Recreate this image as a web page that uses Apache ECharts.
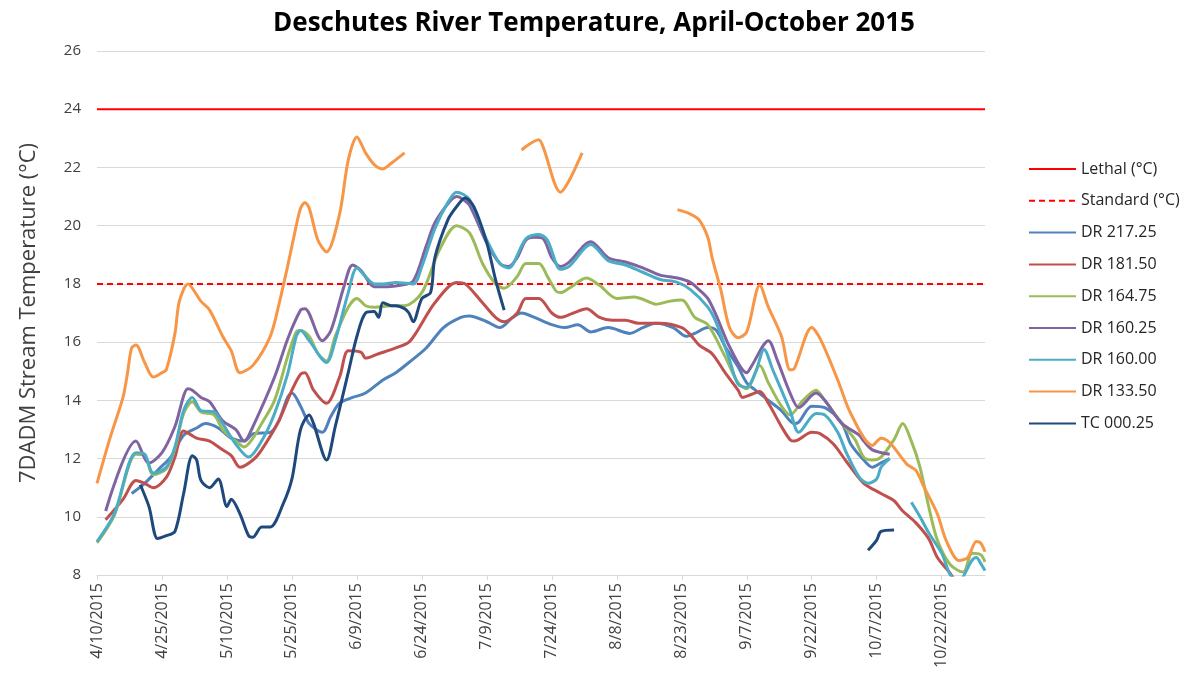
<!DOCTYPE html>
<html>
<head>
<meta charset="utf-8">
<script src="https://cdn.jsdelivr.net/npm/echarts@6/dist/echarts.min.js"></script>
<style>
  html, body { margin: 0; padding: 0; background: #fff; }
  #chart { width: 1188px; height: 682px; }
</style>
</head>
<body>
<div id="chart"></div>
<script>
// days counted from 4/10/2015, temperatures in °C; null marks a gap in the record
const thresholdDays = [0, 205];
const lethalTemp = 24;
const standardTemp = 18;

const dr21725 = [[8,10.8],[11,11.15],[14,11.6],[17,12.05],[20,12.8],[23,13.05],[25,13.2],[28,13.05],[31,12.7],[34,12.6],
  [36,12.85],[40,12.9],[42,13.3],[44,14.1],[45,14.25],[47,13.8],[49,13.2],[52,12.9],[54,13.45],[56,13.9],
  [59,14.1],[62,14.25],[66,14.7],[69,14.95],[72,15.3],[76,15.8],[80,16.5],[84,16.85],[86,16.9],[90,16.7],
  [93,16.5],[96,16.85],[98,17.0],[101,16.85],[105,16.6],[108,16.5],[111,16.6],[114,16.35],[118,16.5],[123,16.3],
  [126,16.5],[129,16.65],[133,16.5],[136,16.2],[138,16.3],[141,16.5],[143,16.4],[145,15.85],[148,15.15],[150,14.6],
  [152,14.35],[155,14.0],[158,13.65],[161,13.2],[162,13.25],[165,13.8],[168,13.75],[172,13.2],[174,12.5],[177,11.95],
  [179,11.7],[181,11.85],[183,12.0]];

const dr18150 = [[2,9.9],[6,10.6],[9,11.25],[11,11.15],[13,11.0],[16,11.35],[18,12.05],[20,12.95],[23,12.7],[26,12.6],
  [29,12.3],[31,12.1],[33,11.7],[36,11.95],[38,12.3],[42,13.3],[45,14.35],[47,14.9],[48,14.95],[50,14.35],
  [53,13.9],[56,14.8],[58,15.7],[61,15.65],[62,15.45],[65,15.6],[69,15.8],[72,16.0],[74,16.4],[78,17.35],
  [83,18.05],[85,18.0],[89,17.35],[92,16.85],[94,16.7],[97,17.0],[99,17.5],[102,17.5],[105,17.0],[107,16.85],
  [110,17.0],[113,17.15],[116,16.85],[119,16.75],[122,16.75],[125,16.65],[130,16.65],[135,16.5],[137,16.25],[139,15.9],
  [142,15.6],[145,14.95],[148,14.35],[149,14.1],[151,14.2],[153,14.3],[155,13.9],[158,13.1],[160,12.65],[161,12.6],
  [165,12.9],[167,12.85],[170,12.5],[173,11.9],[177,11.15],[181,10.8],[184,10.55],[186,10.2],[189,9.8],[192,9.25],
  [194,8.6],[197,8.05],[199,7.6]];

const dr16475 = [[0,9.1],[4,10.05],[9,12.15],[11,12.1],[13,11.45],[16,11.65],[18,12.35],[20,13.55],[22,13.95],[24,13.6],
  [27,13.5],[29,13.0],[32,12.6],[34,12.4],[36,12.7],[38,13.2],[41,14.0],[44,15.5],[46,16.35],[47,16.4],
  [49,16.2],[51,15.6],[53,15.35],[55,16.2],[58,17.2],[60,17.5],[62,17.25],[64,17.2],[68,17.25],[71,17.25],
  [75,17.7],[79,19.15],[83,20.0],[86,19.75],[89,18.7],[92,18.0],[94,17.85],[97,18.25],[99,18.7],[102,18.7],
  [104,18.25],[106,17.75],[107,17.7],[109,17.85],[113,18.2],[116,17.95],[120,17.5],[124,17.55],[128,17.35],[129,17.3],
  [132,17.4],[135,17.45],[138,16.85],[141,16.6],[145,15.5],[148,14.6],[150,14.4],[153,15.2],[155,14.6],[158,13.8],
  [160,13.5],[163,14.0],[166,14.35],[168,14.0],[172,13.2],[175,12.65],[177,12.05],[179,11.95],[181,12.05],[184,12.65],
  [186,13.2],[188,12.6],[190,11.7],[192,10.35],[194,9.2],[197,8.35],[200,8.1],[202,8.75],[204,8.7],[205,8.45]];

const dr16025 = [[2,10.2],[9,12.6],[12,11.85],[15,12.2],[18,13.1],[21,14.4],[22,14.35],[24,14.1],[26,13.95],[29,13.3],
  [32,13.0],[34,12.6],[36,13.1],[41,14.8],[44,16.1],[47,17.1],[48,17.15],[52,16.05],[54,16.4],[57,17.9],
  [59,18.65],[61,18.45],[64,17.9],[67,17.9],[70,17.95],[73,18.1],[76,19.3],[78,20.1],[81,20.75],[83,21.0],
  [84,20.95],[86,20.7],[90,19.4],[93,18.7],[95,18.6],[97,18.9],[99,19.5],[101,19.6],[103,19.55],[105,18.9],
  [107,18.6],[109,18.75],[114,19.45],[118,18.9],[122,18.75],[126,18.55],[130,18.3],[134,18.2],[137,18.05],[139,17.8],
  [141,17.5],[143,16.9],[146,15.85],[150,14.95],[151,15.15],[155,16.05],[157,15.4],[160,14.25],[162,13.75],[166,14.25],
  [168,14.0],[172,13.2],[176,12.8],[177,12.6],[179,12.3],[183,12.15]];

const dr16000 = [[0,9.15],[4,10.1],[9,12.2],[11,12.15],[13,11.5],[16,11.7],[18,12.4],[20,13.65],[22,14.1],[24,13.65],
  [27,13.6],[29,13.2],[32,12.5],[35,12.05],[38,12.6],[41,13.55],[44,14.9],[46,16.2],[47,16.4],[49,16.05],
  [53,15.3],[55,16.05],[58,17.7],[60,18.55],[62,18.25],[64,18.0],[66,18.0],[69,18.05],[73,18.0],[75,18.6],
  [78,19.9],[81,20.8],[83,21.15],[86,20.9],[90,19.5],[93,18.7],[95,18.55],[99,19.55],[102,19.7],[104,19.5],
  [107,18.5],[109,18.6],[114,19.35],[118,18.8],[122,18.65],[126,18.4],[130,18.15],[134,18.05],[137,17.8],[141,17.2],
  [143,16.65],[146,15.4],[148,14.55],[150,14.45],[152,14.95],[154,15.75],[156,15.05],[160,13.65],[162,12.9],[166,13.55],
  [168,13.5],[171,12.9],[173,12.2],[176,11.35],[178,11.15],[180,11.3],[181,11.7],[183,12.0],[185,null],
  [188,10.5],[190,10.0],[192,9.45],[195,8.75],[197,8.0],[199,7.75],[200,7.95],[202,8.5],[203,8.6],[204,8.4],[205,8.15]];

const dr13350 = [[0,11.15],[3,12.7],[6,14.1],[7,14.9],[8,15.8],[9,15.9],[11,15.3],[13,14.8],[15,14.95],[16,15.05],
  [18,16.3],[19,17.4],[21,18.0],[24,17.4],[26,17.1],[29,16.2],[31,15.7],[33,14.95],[36,15.2],[40,16.2],
  [42,17.3],[44,18.6],[46,20.0],[47,20.6],[48,20.8],[49,20.6],[51,19.5],[53,19.1],[56,20.4],[58,22.25],
  [60,23.05],[62,22.5],[64,22.1],[66,21.95],[68,22.15],[71,22.5],[80,null],
  [98,22.6],[102,22.95],[103,22.7],[107,21.15],[109,21.55],[112,22.5],[120,null],
  [134,20.55],[137,20.4],[139,20.2],[141,19.6],[142,18.9],[144,17.8],[146,16.5],[148,16.15],[150,16.35],[153,17.95],
  [155,17.2],[158,16.2],[160,15.05],[161,15.1],[165,16.5],[167,16.1],[171,14.7],[174,13.55],[179,12.45],[181,12.7],
  [183,12.55],[187,11.8],[189,11.6],[191,11.0],[194,10.1],[196,9.2],[199,8.5],[201,8.6],[203,9.15],[204,9.1],[205,8.8]];

const tc00025 = [[10,11.1],[12,10.35],[14,9.25],[16,9.35],[18,9.5],[20,10.8],[22,12.1],[23,11.95],[24,11.25],[26,11.0],
  [28,11.3],[30,10.35],[31,10.6],[33,10.1],[35,9.35],[36,9.3],[38,9.65],[40,9.65],[43,10.45],[45,11.3],
  [47,13.0],[49,13.5],[50,13.2],[53,11.95],[55,13.1],[58,14.95],[60,16.2],[62,17.0],[64,17.05],[65,16.85],
  [66,17.35],[68,17.25],[69,17.25],[71,17.15],[72,17.0],[73,16.7],[75,17.5],[77,17.7],[78,18.9],[81,20.2],
  [83,20.65],[85,20.95],[87,20.65],[90,19.4],[92,18.15],[94,17.1],[130,null],
  [178,8.85],[180,9.2],[181,9.5],[184,9.55]];

const font = 'Open Sans';

function toData(pts) {
  return pts.map(p => [p[0], p[1] === null ? '-' : p[1]]);
}

function dateLabel(v) {
  if (v % 15 !== 0) return '';
  const d = new Date(2015, 3, 10 + v);
  return (d.getMonth() + 1) + '/' + d.getDate() + '/' + d.getFullYear();
}

function tempLine(name, pts, color) {
  return {
    name: name,
    type: 'line',
    data: toData(pts),
    symbol: 'none',
    smooth: 0.3,
    lineStyle: { color: color, width: 3 },
    itemStyle: { color: color }
  };
}

var chart = echarts.init(document.getElementById('chart'));
chart.setOption({
  animation: false,
  backgroundColor: '#fff',
  title: {
    text: 'Deschutes River Temperature, April-October 2015',
    left: 'center',
    top: 6,
    textStyle: { fontFamily: font, fontSize: 26, fontWeight: 'bold', color: '#000' }
  },
  legend: {
    orient: 'vertical',
    left: 1023,
    top: 156,
    itemWidth: 47,
    itemHeight: 14,
    itemGap: 15.8,
    itemStyle: { opacity: 0 },
    textStyle: { fontFamily: font, fontSize: 16, color: '#262626' },
    data: ['Lethal (°C)', 'Standard (°C)', 'DR 217.25', 'DR 181.50', 'DR 164.75',
           'DR 160.25', 'DR 160.00', 'DR 133.50', 'TC 000.25']
  },
  grid: { left: 97, right: 203, top: 51, bottom: 107 },
  xAxis: {
    type: 'value',
    min: 0,
    max: 205,
    interval: 15,
    axisLine: { lineStyle: { color: '#d9d9d9', width: 1 } },
    axisTick: { show: true, length: 5, lineStyle: { color: '#d9d9d9' } },
    splitLine: { show: false },
    axisLabel: {
      rotate: 90,
      fontFamily: font,
      fontSize: 16,
      color: '#404040',
      margin: 8,
      showMaxLabel: false,
      formatter: dateLabel
    }
  },
  yAxis: {
    type: 'value',
    min: 8,
    max: 26,
    interval: 2,
    name: '7DADM Stream Temperature (°C)',
    nameLocation: 'middle',
    nameGap: 57,
    nameTextStyle: { fontFamily: font, fontSize: 22, color: '#404040' },
    axisLine: { show: false },
    axisTick: { show: false },
    splitLine: { lineStyle: { color: '#d9d9d9', width: 1 } },
    axisLabel: { fontFamily: font, fontSize: 15, color: '#404040', margin: 16 }
  },
  series: [
    {
      name: 'Lethal (°C)',
      type: 'line',
      data: thresholdDays.map(d => [d, lethalTemp]),
      symbol: 'none',
      lineStyle: { color: '#ff0000', width: 2 },
      itemStyle: { color: '#ff0000' }
    },
    {
      name: 'Standard (°C)',
      type: 'line',
      data: thresholdDays.map(d => [d, standardTemp]),
      symbol: 'none',
      lineStyle: { color: '#ff0000', width: 2, type: [6, 4] },
      itemStyle: { color: '#ff0000' }
    },
    tempLine('DR 217.25', dr21725, '#4f81bd'),
    tempLine('DR 181.50', dr18150, '#c0504d'),
    tempLine('DR 164.75', dr16475, '#9bbb59'),
    tempLine('DR 160.25', dr16025, '#8064a2'),
    tempLine('DR 160.00', dr16000, '#4bacc6'),
    tempLine('DR 133.50', dr13350, '#f79646'),
    tempLine('TC 000.25', tc00025, '#1f497d')
  ]
});
</script>
</body>
</html>
